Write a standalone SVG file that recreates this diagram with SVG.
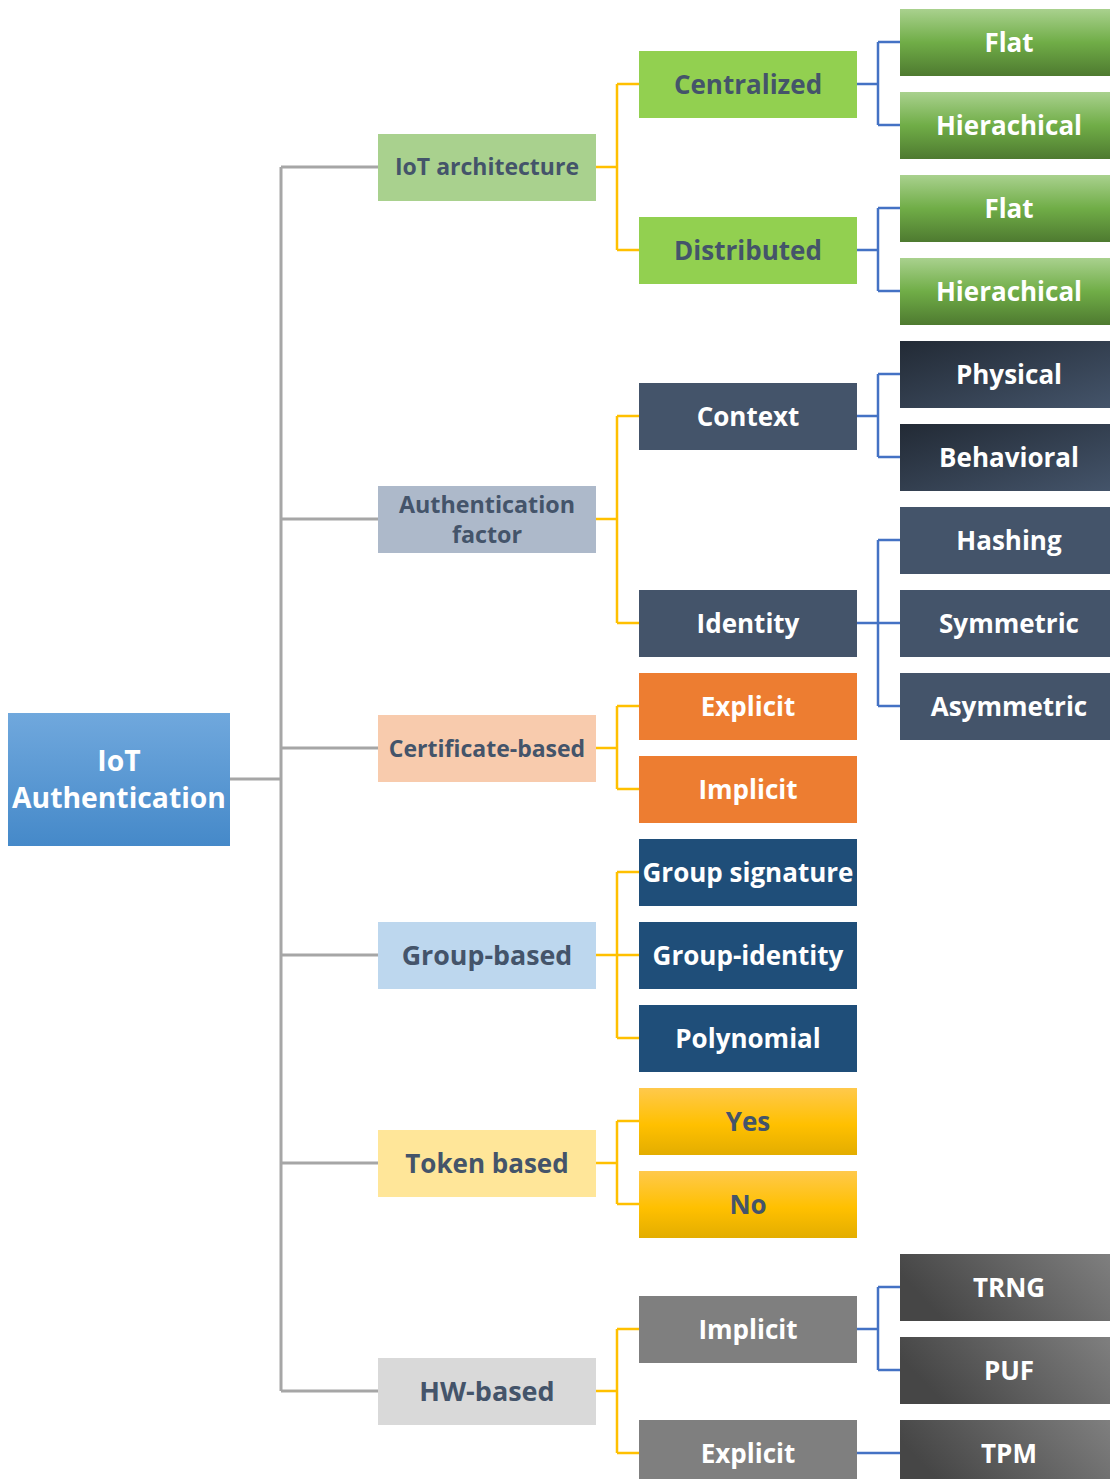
<svg xmlns="http://www.w3.org/2000/svg" width="1110" height="1479" viewBox="0 0 1110 1479">
<defs>
<linearGradient id="gRoot" x1="0" y1="0" x2="0" y2="1"><stop offset="0" stop-color="#70a8dd"/><stop offset="1" stop-color="#4589c9"/></linearGradient>
<linearGradient id="gGreen" x1="0" y1="0" x2="0" y2="1"><stop offset="0" stop-color="#a9d18e"/><stop offset="0.5" stop-color="#70ad47"/><stop offset="1" stop-color="#4e7a30"/></linearGradient>
<linearGradient id="gDark" x1="0" y1="0" x2="1" y2="1"><stop offset="0" stop-color="#222a35"/><stop offset="1" stop-color="#44546a"/></linearGradient>
<linearGradient id="gGray" x1="0" y1="0.3" x2="1" y2="0"><stop offset="0" stop-color="#464646"/><stop offset="1" stop-color="#7f7f7f"/></linearGradient>
<linearGradient id="gYellow" x1="0" y1="0" x2="0" y2="1"><stop offset="0" stop-color="#ffc94c"/><stop offset="0.55" stop-color="#ffc000"/><stop offset="1" stop-color="#e3ad00"/></linearGradient>
</defs>
<style>
text{font-family:"Open Sans","Noto Sans","Liberation Sans",sans-serif;font-weight:bold;text-anchor:middle}
.d{fill:#44546a}
.w{fill:#ffffff}
.cg{fill:none;stroke:#a6a6a6;stroke-width:3}
.cy{fill:none;stroke:#ffc000;stroke-width:2.5}
.cb{fill:none;stroke:#4472c4;stroke-width:2.5}
.l2{font-size:26px}
</style>
<rect width="1110" height="1479" fill="#ffffff"/>
<g id="connectors">
<path class="cg" d="M230,779H281M281,167V1391M281,167H378M281,519H378M281,748H378M281,955H378M281,1163H378M281,1391H378"/>
<path class="cy" d="M596,167H617M617,84V250M617,84H639M617,250H639"/>
<path class="cy" d="M596,519H617M617,416V623M617,416H639M617,623H639"/>
<path class="cy" d="M596,748H617M617,706V789M617,706H639M617,789H639"/>
<path class="cy" d="M596,955H639M617,872V1038M617,872H639M617,1038H639"/>
<path class="cy" d="M596,1163H617M617,1121V1204M617,1121H639M617,1204H639"/>
<path class="cy" d="M596,1391H617M617,1329V1453M617,1329H639M617,1453H639"/>
<path class="cb" d="M857,84H878M878,42V125M878,42H900M878,125H900"/>
<path class="cb" d="M857,250H878M878,208V291M878,208H900M878,291H900"/>
<path class="cb" d="M857,416H878M878,374V457M878,374H900M878,457H900"/>
<path class="cb" d="M857,623H900M878,540V706M878,540H900M878,706H900"/>
<path class="cb" d="M857,1329H878M878,1287V1370M878,1287H900M878,1370H900"/>
<path class="cb" d="M857,1453H900"/>
</g>
<g id="root"><rect x="8" y="713" width="222" height="133" fill="url(#gRoot)"/><text class="w" x="119" y="771" font-size="28.3">IoT</text><text class="w" x="119" y="808" font-size="28.3">Authentication</text></g>

<g id="iot-architecture"><rect x="378" y="134" width="218" height="67" fill="#a9d18e"/><text class="d" x="487" y="175.3" font-size="23">IoT architecture</text></g>
<g id="authentication-factor"><rect x="378" y="486" width="218" height="67" fill="#adb9ca"/><text class="d" x="487" y="513" font-size="23.3">Authentication</text><text class="d" x="487" y="543" font-size="23.3">factor</text></g>
<g id="certificate-based"><rect x="378" y="715" width="218" height="67" fill="#f8cbad"/><text class="d" x="487" y="756.5" font-size="23">Certificate-based</text></g>
<g id="group-based"><rect x="378" y="922" width="218" height="67" fill="#bdd7ee"/><text class="d" x="487" y="964.5" font-size="26.8">Group-based</text></g>
<g id="token-based"><rect x="378" y="1130" width="218" height="67" fill="#ffe699"/><text class="d" x="487" y="1172.5" font-size="26">Token based</text></g>
<g id="hw-based"><rect x="378" y="1358" width="218" height="67" fill="#d9d9d9"/><text class="d" x="487" y="1400.5" font-size="27">HW-based</text></g>

<g id="centralized"><rect x="639" y="51" width="218" height="67" fill="#92d050"/><text class="d l2" x="748" y="93.5">Centralized</text></g>
<g id="distributed"><rect x="639" y="217" width="218" height="67" fill="#92d050"/><text class="d l2" x="748" y="259.5">Distributed</text></g>
<g id="context"><rect x="639" y="383" width="218" height="67" fill="#44546a"/><text class="w l2" x="748" y="425.5">Context</text></g>
<g id="identity"><rect x="639" y="590" width="218" height="67" fill="#44546a"/><text class="w l2" x="748" y="632.5">Identity</text></g>
<g id="cert-explicit"><rect x="639" y="673" width="218" height="67" fill="#ed7d31"/><text class="w l2" x="748" y="715.5">Explicit</text></g>
<g id="cert-implicit"><rect x="639" y="756" width="218" height="67" fill="#ed7d31"/><text class="w l2" x="748" y="798.5">Implicit</text></g>
<g id="group-signature"><rect x="639" y="839" width="218" height="67" fill="#1f4e79"/><text class="w l2" x="748" y="881.5">Group signature</text></g>
<g id="group-identity"><rect x="639" y="922" width="218" height="67" fill="#1f4e79"/><text class="w l2" x="748" y="964.5">Group-identity</text></g>
<g id="polynomial"><rect x="639" y="1005" width="218" height="67" fill="#1f4e79"/><text class="w l2" x="748" y="1047.5">Polynomial</text></g>
<g id="yes"><rect x="639" y="1088" width="218" height="67" fill="url(#gYellow)"/><text class="d l2" x="748" y="1130.5">Yes</text></g>
<g id="no"><rect x="639" y="1171" width="218" height="67" fill="url(#gYellow)"/><text class="d l2" x="748" y="1213.5">No</text></g>
<g id="hw-implicit"><rect x="639" y="1296" width="218" height="67" fill="#7f7f7f"/><text class="w l2" x="748" y="1338.5">Implicit</text></g>
<g id="hw-explicit"><rect x="639" y="1420" width="218" height="67" fill="#7f7f7f"/><text class="w l2" x="748" y="1462.5">Explicit</text></g>

<g id="c-flat"><rect x="900" y="9" width="210" height="67" fill="url(#gGreen)"/><text class="w l2" x="1009" y="51.5">Flat</text></g>
<g id="c-hierachical"><rect x="900" y="92" width="210" height="67" fill="url(#gGreen)"/><text class="w l2" x="1009" y="134.5">Hierachical</text></g>
<g id="d-flat"><rect x="900" y="175" width="210" height="67" fill="url(#gGreen)"/><text class="w l2" x="1009" y="217.5">Flat</text></g>
<g id="d-hierachical"><rect x="900" y="258" width="210" height="67" fill="url(#gGreen)"/><text class="w l2" x="1009" y="300.5">Hierachical</text></g>
<g id="physical"><rect x="900" y="341" width="210" height="67" fill="url(#gDark)"/><text class="w l2" x="1009" y="383.5">Physical</text></g>
<g id="behavioral"><rect x="900" y="424" width="210" height="67" fill="url(#gDark)"/><text class="w l2" x="1009" y="466.5">Behavioral</text></g>
<g id="hashing"><rect x="900" y="507" width="210" height="67" fill="#44546a"/><text class="w l2" x="1009" y="549.5">Hashing</text></g>
<g id="symmetric"><rect x="900" y="590" width="210" height="67" fill="#44546a"/><text class="w l2" x="1009" y="632.5">Symmetric</text></g>
<g id="asymmetric"><rect x="900" y="673" width="210" height="67" fill="#44546a"/><text class="w l2" x="1009" y="715.5">Asymmetric</text></g>
<g id="trng"><rect x="900" y="1254" width="210" height="67" fill="url(#gGray)"/><text class="w l2" x="1009" y="1296.5">TRNG</text></g>
<g id="puf"><rect x="900" y="1337" width="210" height="67" fill="url(#gGray)"/><text class="w l2" x="1009" y="1379.5">PUF</text></g>
<g id="tpm"><rect x="900" y="1420" width="210" height="67" fill="url(#gGray)"/><text class="w l2" x="1009" y="1462.5">TPM</text></g>
</svg>
